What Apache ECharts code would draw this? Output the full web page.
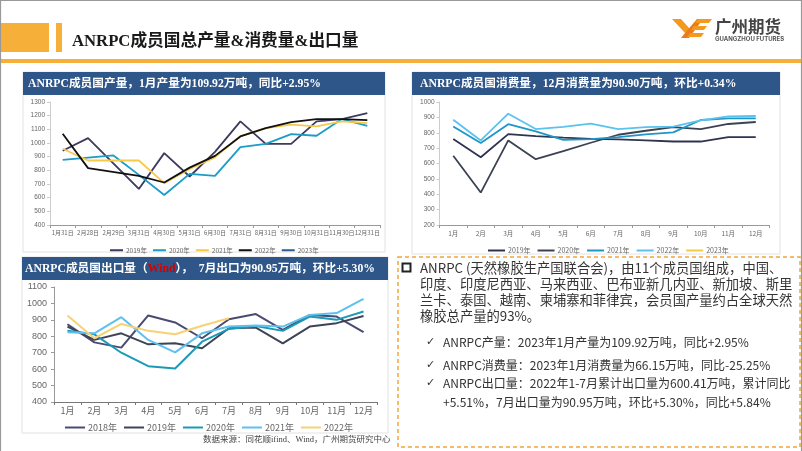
<!DOCTYPE html>
<html><head><meta charset="utf-8">
<script src="https://cdn.jsdelivr.net/npm/echarts@6.0.0/dist/echarts.min.js"></script>
<style>html,body{margin:0;padding:0;background:#fff}#c{width:802px;height:451px}</style>
</head><body><div id="c"></div>
<script>
// ---------- data ----------
const prodCats = ['1月31日','2月28日','2月29日','3月31日','4月30日','5月31日','6月30日','7月31日','8月31日','9月30日','10月31日','11月30日','12月31日'];
const prod2019 = [943, 1036, null, 664, 926, 755, 935, 1158, 994, 994, 1158, 1175, 1219];
const prod2020 = [877, null, 909, 767, 620, 774, 759, 970, 994, 1065, 1053, 1175, 1126];
const prod2021 = [958, 872, null, 872, 706, 810, 895, 1050, 1109, 1134, 1122, 1158, 1146];
const prod2022 = [1068, 816, null, 760, 711, 820, 906, 1048, 1109, 1153, 1175, 1175, 1168];
const prod2023 = [1099.2];

const monthCats = ['1月','2月','3月','4月','5月','6月','7月','8月','9月','10月','11月','12月'];
const cons2019 = [759, 641, 791, 778, 768, 760, 757, 750, 743, 743, 772, 772];
const cons2020 = [650, 411, 750, 628, 680, 735, 787, 813, 837, 824, 857, 870];
const cons2021 = [841, 733, 856, 809, 754, 759, 772, 790, 802, 883, 893, 893];
const cons2022 = [885, 750, 924, 824, 838, 859, 824, 837, 840, 880, 906, 909];
const cons2023 = [661.5];

const exp2018 = [873, 763, 731, 927, 884, 788, 904, 935, 839, 930, 920, 825];
const exp2019 = [859, 778, 818, 751, 757, 727, 849, 853, 757, 859, 880, 924];
const exp2020 = [833, 812, 700, 618, 604, 767, 845, 863, 833, 920, 900, 951];
const exp2021 = [824, 818, 916, 778, 702, 818, 859, 865, 859, 930, 941, 1028];
const exp2022 = [927, 788, 875, 833, 812, 864, 909.5];

const prodYears = ['2019年','2020年','2021年','2022年','2023年'];
const consYears = ['2019年','2020年','2021年','2022年','2023年'];
const expYears = ['2018年','2019年','2020年','2021年','2022年'];

// ---------- build ----------
const CJK = "'Noto Sans CJK SC'";
const TITLEF = "'Liberation Serif','Noto Sans CJK SC'";
function mk(tag, name, data, color, gi, w) {
  return { name: tag + '|' + name, type: 'line', data: data, xAxisIndex: gi, yAxisIndex: gi,
    symbol: 'none', connectNulls: true, lineStyle: { color: color, width: w }, itemStyle: { color: color },
    emphasis: { disabled: true }, silent: true };
}
const c1 = ['#3d3a5e', '#1a9cc7', '#f5c94a', '#111111', '#2c5d8f'];
const c2 = ['#2e3350', '#3b4253', '#1f96c8', '#5bc2f0', '#f5c94a'];
const c3 = ['#4a4a72', '#3c4556', '#1b9ab7', '#5ec0ee', '#f7d174'];
const prodData = [prod2019, prod2020, prod2021, prod2022, prod2023];
const consData = [cons2019, cons2020, cons2021, cons2022, cons2023];
const expData = [exp2018, exp2019, exp2020, exp2021, exp2022];
const series = [];
prodYears.forEach((y, i) => series.push(mk('A', y, prodData[i], c1[i], 0, 1.8)));
consYears.forEach((y, i) => series.push(mk('B', y, consData[i], c2[i], 1, 1.8)));
expYears.forEach((y, i) => series.push(mk('C', y, expData[i], c3[i], 2, 2)));

function xAx(gi, cats, fs, margin, col) {
  return { type: 'category', gridIndex: gi, data: cats, boundaryGap: true,
    axisLine: { lineStyle: { color: col, width: 1 } },
    axisTick: { show: true, length: 3, lineStyle: { color: col } },
    axisLabel: { interval: 0, fontSize: fs, color: '#666', margin: margin, fontFamily: CJK } };
}
function yAx(gi, min, max, fs, margin, col) {
  return { type: 'value', gridIndex: gi, min: min, max: max, interval: 100,
    axisLine: { show: true, lineStyle: { color: col } },
    axisTick: { show: true, length: 3, lineStyle: { color: col } },
    splitLine: { show: false },
    axisLabel: { fontSize: fs, color: '#666', margin: margin, fontFamily: "'Liberation Sans'", formatter: v => String(v) } };
}
function lg(tag, names, left, top, iw, fs, gap) {
  return { data: names.map(n => tag + '|' + n), left: left, top: top, icon: 'rect', itemWidth: iw, itemHeight: 2,
    itemGap: gap, textStyle: { fontSize: fs, color: '#666', fontFamily: CJK, padding: [0, 0, 0, -2] },
    formatter: n => n.split('|')[1], selectedMode: false };
}
const TF = 'bold 11.7px ' + TITLEF;
const graphic = [
  // slide border
  { type: 'rect', shape: { x: 0.5, y: 0.5, width: 801, height: 452 }, style: { fill: 'none', stroke: '#999', lineWidth: 1.2 }, z: 100 },
  // header
  { type: 'rect', shape: { x: 0, y: 23, width: 49, height: 29 }, style: { fill: '#f6b03a' } },
  { type: 'rect', shape: { x: 56, y: 23, width: 6, height: 29 }, style: { fill: '#f6b03a' } },
  { type: 'rect', shape: { x: 0, y: 59, width: 802, height: 4 }, style: { fill: '#f6b03a' } },
  { type: 'text', x: 72, y: 42, style: { text: 'ANRPC成员国总产量&消费量&出口量', fill: '#1a1a1a', font: 'bold 16.7px ' + TITLEF, textVerticalAlign: 'middle' } },
  // logo
  { type: 'polygon', shape: { points: [[672,19],[681,19],[690,29],[685,33]] }, style: { fill: '#f39a1e' } },
  { type: 'polygon', shape: { points: [[685,33],[697,19],[703,19],[689,38],[681,38]] }, style: { fill: '#eb7a1c' } },
  { type: 'polygon', shape: { points: [[698,19],[712,19],[709,23],[695,23]] }, style: { fill: '#f39a1e' } },
  { type: 'polygon', shape: { points: [[694,26],[707,26],[704,30],[691,30]] }, style: { fill: '#f39a1e' } },
  { type: 'polygon', shape: { points: [[690,33],[704,33],[701,37],[687,37]] }, style: { fill: '#f39a1e' } },
  { type: 'text', x: 715, y: 27, style: { text: '广州期货', fill: '#444', font: 'bold 16.5px ' + CJK, textVerticalAlign: 'middle' } },
  { type: 'text', x: 715, y: 39, style: { text: 'GUANGZHOU FUTURES', fill: '#555', font: 'bold 6px Inter', textVerticalAlign: 'middle' } },
  // panels
  { type: 'rect', shape: { x: 23, y: 72, width: 362, height: 180 }, style: { fill: '#fff', stroke: '#e2e2e2' }, z: -10 },
  { type: 'rect', shape: { x: 412, y: 72, width: 368, height: 182 }, style: { fill: '#fff', stroke: '#e2e2e2' }, z: -10 },
  { type: 'rect', shape: { x: 22, y: 257, width: 366, height: 176 }, style: { fill: '#fff', stroke: '#e2e2e2' }, z: -10 },
  { type: 'rect', shape: { x: 23, y: 72, width: 362, height: 23 }, style: { fill: '#2f5689' } },
  { type: 'rect', shape: { x: 412, y: 72, width: 368, height: 23 }, style: { fill: '#2f5689' } },
  { type: 'rect', shape: { x: 22, y: 257, width: 366, height: 23 }, style: { fill: '#2f5689' } },
  { type: 'text', x: 28, y: 84, style: { text: 'ANRPC成员国产量，1月产量为109.92万吨，同比+2.95%', fill: '#fff', font: TF, textVerticalAlign: 'middle' } },
  { type: 'text', x: 420, y: 84, style: { text: 'ANRPC成员国消费量，12月消费量为90.90万吨，环比+0.34%', fill: '#fff', font: TF, textVerticalAlign: 'middle' } },
  { type: 'text', x: 25, y: 269, style: { text: '{w|ANRPC成员国出口量（}{r|Wind}{w|），  7月出口为90.95万吨，环比+5.30%}', textVerticalAlign: 'middle',
      rich: { w: { fill: '#fff', font: TF }, r: { fill: '#d40000', font: TF } } } },
  // source
  { type: 'text', x: 203, y: 440, style: { text: '数据来源：同花顺ifind、Wind，广州期货研究中心', fill: '#444', font: '8.5px ' + TITLEF, textVerticalAlign: 'middle' } },
  // text box
  { type: 'rect', shape: { x: 398, y: 257, width: 402, height: 190 }, style: { fill: 'none', stroke: '#f0a53a', lineWidth: 1.5, lineDash: [4, 3] } },
  { type: 'rect', shape: { x: 402.5, y: 263.5, width: 8, height: 8 }, style: { fill: 'none', stroke: '#222', lineWidth: 2 } },
  { type: 'text', x: 420, y: 268, style: { text: 'ANRPC (天然橡胶生产国联合会)，由11个成员国组成，中国、', fill: '#333', font: '13.3px ' + CJK, textVerticalAlign: 'middle' } },
  { type: 'text', x: 420, y: 284, style: { text: '印度、印度尼西亚、马来西亚、巴布亚新几内亚、新加坡、斯里', fill: '#333', font: '13.3px ' + CJK, textVerticalAlign: 'middle' } },
  { type: 'text', x: 420, y: 300, style: { text: '兰卡、泰国、越南、柬埔寨和菲律宾，会员国产量约占全球天然', fill: '#333', font: '13.3px ' + CJK, textVerticalAlign: 'middle' } },
  { type: 'text', x: 420, y: 316, style: { text: '橡胶总产量的93%。', fill: '#333', font: '13.3px ' + CJK, textVerticalAlign: 'middle' } },
  { type: 'text', x: 426, y: 342, style: { text: '✓', fill: '#333', font: '11px "DejaVu Sans"', textVerticalAlign: 'middle' } },
  { type: 'text', x: 426, y: 365, style: { text: '✓', fill: '#333', font: '11px "DejaVu Sans"', textVerticalAlign: 'middle' } },
  { type: 'text', x: 426, y: 383, style: { text: '✓', fill: '#333', font: '11px "DejaVu Sans"', textVerticalAlign: 'middle' } },
  { type: 'text', x: 443, y: 342, style: { text: 'ANRPC产量：2023年1月产量为109.92万吨，同比+2.95%', fill: '#333', font: '12px ' + CJK, textVerticalAlign: 'middle' } },
  { type: 'text', x: 443, y: 365, style: { text: 'ANRPC消费量：2023年1月消费量为66.15万吨，同比-25.25%', fill: '#333', font: '12px ' + CJK, textVerticalAlign: 'middle' } },
  { type: 'text', x: 443, y: 383, style: { text: 'ANRPC出口量：2022年1-7月累计出口量为600.41万吨，累计同比', fill: '#333', font: '12px ' + CJK, textVerticalAlign: 'middle' } },
  { type: 'text', x: 443, y: 402, style: { text: '+5.51%，7月出口量为90.95万吨，环比+5.30%，同比+5.84%', fill: '#333', font: '12px ' + CJK, textVerticalAlign: 'middle' } }
];

const option = {
  animation: false,
  backgroundColor: '#fff',
  grid: [
    { left: 50, top: 102, width: 330, height: 123 },
    { left: 439.5, top: 102, width: 330, height: 123 },
    { left: 54, top: 287, width: 323, height: 115 }
  ],
  xAxis: [
    xAx(0, prodCats, 6, 5, '#999'),
    xAx(1, monthCats, 6.5, 5, '#999'),
    xAx(2, monthCats, 9, 4, '#777')
  ],
  yAxis: [
    yAx(0, 400, 1300, 6.5, 5, '#ccc'),
    yAx(1, 200, 1000, 6.5, 5, '#ccc'),
    yAx(2, 400, 1100, 9, 7, '#999')
  ],
  legend: [
    lg('A', prodYears, 105, 242, 13, 6.5, 6),
    lg('B', consYears, 483, 242, 17, 7, 7),
    lg('C', expYears, 60, 418, 20, 9, 7)
  ],
  graphic: graphic,
  series: series
};
const chart = echarts.init(document.getElementById('c'), null, { renderer: 'canvas' });
chart.setOption(option);
</script></body></html>
